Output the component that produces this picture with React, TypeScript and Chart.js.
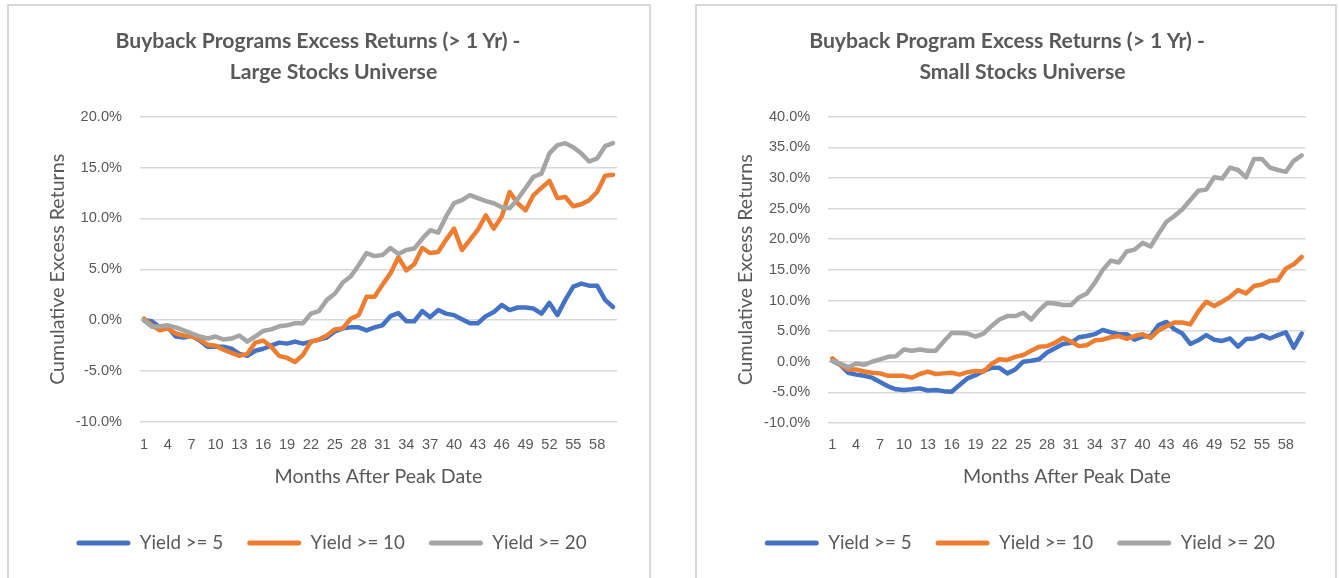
import React, { useEffect, useRef } from 'react';
import { Chart, registerables } from 'chart.js';

Chart.register(...registerables);

// ---------- data ----------
const months = [
  '1', '2', '3', '4', '5', '6', '7', '8', '9', '10',
  '11', '12', '13', '14', '15', '16', '17', '18', '19', '20',
  '21', '22', '23', '24', '25', '26', '27', '28', '29', '30',
  '31', '32', '33', '34', '35', '36', '37', '38', '39', '40',
  '41', '42', '43', '44', '45', '46', '47', '48', '49', '50',
  '51', '52', '53', '54', '55', '56', '57', '58', '59', '60',
];

const seriesNames = ['Yield >= 5', 'Yield >= 10', 'Yield >= 20'];

const largeYield5 = [
  0, -0.1, -0.7, -0.7, -1.6, -1.7, -1.5, -2.0, -2.6, -2.6,
  -2.6, -2.8, -3.3, -3.5, -3.0, -2.8, -2.5, -2.2, -2.3, -2.1,
  -2.3, -2.1, -1.9, -1.7, -1.1, -0.8, -0.7, -0.7, -1.0, -0.7,
  -0.5, 0.4, 0.7, -0.1, -0.1, 0.9, 0.3, 1.0, 0.65, 0.5,
  0.1, -0.3, -0.3, 0.4, 0.8, 1.5, 1.0, 1.25, 1.25, 1.15,
  0.65, 1.7, 0.5, 2.0, 3.3, 3.6, 3.4, 3.4, 2.0, 1.3,
];
const largeYield10 = [
  0.15, -0.5, -1.0, -0.8, -1.3, -1.5, -1.6, -1.9, -2.4, -2.5,
  -2.9, -3.2, -3.5, -3.3, -2.2, -2.0, -2.6, -3.5, -3.7, -4.1,
  -3.4, -2.1, -1.9, -1.5, -0.9, -0.8, 0.15, 0.5, 2.3, 2.3,
  3.5, 4.6, 6.2, 4.9, 5.5, 7.1, 6.6, 6.7, 7.9, 9.0,
  6.9, 7.9, 8.9, 10.3, 9.0, 10.2, 12.6, 11.5, 10.8, 12.3,
  13.0, 13.7, 12.0, 12.1, 11.2, 11.4, 11.8, 12.6, 14.2, 14.3,
];
const largeYield20 = [
  0, -0.65, -0.6, -0.5, -0.7, -1.0, -1.3, -1.6, -1.8, -1.6,
  -1.9, -1.8, -1.5, -2.1, -1.6, -1.05, -0.9, -0.6, -0.5, -0.3,
  -0.3, 0.65, 0.9, 2.0, 2.6, 3.7, 4.3, 5.4, 6.6, 6.3,
  6.4, 7.1, 6.5, 6.9, 7.05, 8.0, 8.85, 8.6, 10.2, 11.5,
  11.8, 12.3, 12.0, 11.7, 11.5, 11.1, 11.0, 11.9, 13.0, 14.1,
  14.4, 16.4, 17.2, 17.4, 17.0, 16.4, 15.6, 15.9, 17.1, 17.4,
];

const smallYield5 = [
  0.15, -0.5, -1.8, -2.1, -2.3, -2.6, -3.3, -4.0, -4.5, -4.6,
  -4.5, -4.35, -4.7, -4.6, -4.8, -4.9, -3.8, -2.7, -2.2, -1.5,
  -1.0, -1.0, -1.9, -1.25, 0, 0.15, 0.4, 1.5, 2.2, 2.9,
  3.1, 4.0, 4.2, 4.5, 5.2, 4.8, 4.5, 4.5, 3.6, 4.1,
  4.2, 6.0, 6.5, 5.3, 4.6, 2.9, 3.5, 4.35, 3.6, 3.4,
  3.8, 2.45, 3.7, 3.8, 4.35, 3.8, 4.35, 4.8, 2.3, 4.6,
];
const smallYield10 = [
  0.55, -0.5, -1.25, -1.25, -1.6, -1.8, -1.9, -2.3, -2.3, -2.3,
  -2.6, -2.0, -1.6, -2.0, -1.9, -1.8, -2.1, -1.7, -1.5, -1.6,
  -0.4, 0.4, 0.3, 0.8, 1.1, 1.8, 2.45, 2.55, 3.1, 3.9,
  3.3, 2.55, 2.7, 3.5, 3.6, 4.0, 4.2, 3.75, 4.2, 4.5,
  3.9, 5.1, 5.8, 6.4, 6.4, 6.1, 8.2, 9.8, 9.1, 9.8,
  10.6, 11.7, 11.15, 12.35, 12.6, 13.2, 13.3, 15.2, 15.9, 17.1,
];
const smallYield20 = [
  0.15, -0.3, -0.9, -0.3, -0.5, 0, 0.4, 0.8, 0.9, 2.0,
  1.8, 2.0, 1.8, 1.8, 3.3, 4.7, 4.7, 4.6, 4.1, 4.6,
  5.8, 6.9, 7.45, 7.45, 8.0, 6.9, 8.4, 9.6, 9.5, 9.25,
  9.25, 10.5, 11.15, 12.9, 15.0, 16.5, 16.2, 18.0, 18.3, 19.4,
  18.8, 20.9, 22.85, 23.8, 24.9, 26.4, 27.9, 28.1, 30.1, 29.9,
  31.7, 31.3, 30.1, 33.1, 33.1, 31.7, 31.3, 31.0, 32.8, 33.7,
];

const largeTitle = ['Buyback Programs Excess Returns (> 1 Yr) -', 'Large Stocks Universe'];
const smallTitle = ['Buyback Program Excess Returns (> 1 Yr) -', 'Small Stocks Universe'];
const largeYRange = [-10, 20];
const smallYRange = [-10, 40];
const yTickStep = 5;
const xTickEvery = 3;
const xAxisTitle = 'Months After Peak Date';
const yAxisTitle = 'Cumulative Excess Returns';

// ---------- style ----------
const seriesColors = ['#4472C4', '#ED7D31', '#A5A5A5'];
const TEXT = '#595959';
const GRID = '#d9d9d9';
const FONT_MAIN = 'Lato, "Open Sans", sans-serif';
const FONT_TICK = '"Liberation Sans", Arial, sans-serif';

function fitSize(text: string, weight: string, family: string, target: number, fallback: number): number {
  try {
    const c = document.createElement('canvas');
    const ctx = c.getContext('2d');
    if (!ctx) return fallback;
    ctx.font = `${weight} 100px ${family}`;
    const w = ctx.measureText(text).width;
    if (!w) return fallback;
    return Math.round((1000 * target) / w) / 10;
  } catch (e) {
    return fallback;
  }
}

type Fonts = { tick: number; axis: number; legend: number; title: number };

type PanelProps = {
  boxLeft: number;
  boxOuterWidth: number;
  series: number[][];
  yRange: number[];
  title: string[];
  titleCenters: number[];
  area: { left: number; right: number; top: number; bottom: number };
  padLeft: number;
  fonts: Fonts;
};

const BOX_TOP = 4;
const CANVAS_TOP = 6;
const CANVAS_H = 572;
const TITLE_Y = [41, 72.5];
const XTICK_MID_Y = 445;
const XTITLE_MID_Y = 477;
const LEGEND_MID_Y = 543;
const LEGEND_PAD = 24;

function Panel(props: PanelProps) {
  const ref = useRef<HTMLCanvasElement | null>(null);
  const { boxLeft, boxOuterWidth, series, yRange, title, titleCenters, area, padLeft, fonts } = props;
  const canvasLeft = boxLeft + 2;
  const canvasW = boxOuterWidth - 4;

  useEffect(() => {
    const canvas = ref.current;
    if (!canvas) return;
    const aL = area.left - canvasLeft;
    const aR = area.right - canvasLeft;
    const aT = area.top - CANVAS_TOP;
    const aB = area.bottom - CANVAS_TOP;
    const padRight = canvasW - aR;
    const yW = aL - padLeft;

    const legendTop = LEGEND_MID_Y - CANVAS_TOP - LEGEND_PAD - fonts.legend / 2;
    const legendH = fonts.legend + LEGEND_PAD + 10;
    const padBottom = Math.max(0, CANVAS_H - legendTop - legendH);
    const xH = legendTop - aB;
    const axisLH = fonts.axis * 1.2;
    const xTitlePadBottom = legendTop - axisLH / 2 - (XTITLE_MID_Y - CANVAS_TOP);
    const tickLH = fonts.tick * 1.2;
    const xTickPad = XTICK_MID_Y - CANVAS_TOP - aB - tickLH / 2;

    const datasets = series.map((data, i) => ({
      label: seriesNames[i],
      data,
      borderColor: seriesColors[i],
      backgroundColor: seriesColors[i],
      borderWidth: 4.5,
      pointRadius: 0,
      pointHoverRadius: 0,
      tension: 0,
      fill: false,
      borderJoinStyle: 'round',
      borderCapStyle: 'round',
      order: series.length - 1 - i,
    }));

    const chart = new Chart(canvas, {
      type: 'line',
      data: { labels: months, datasets: datasets as any },
      options: {
        responsive: false,
        maintainAspectRatio: false,
        animation: false,
        devicePixelRatio: 1,
        events: [],
        layout: { padding: { left: padLeft, right: padRight, top: aT, bottom: padBottom } },
        plugins: {
          title: { display: false },
          tooltip: { enabled: false },
          legend: {
            display: true,
            position: 'bottom',
            align: 'center',
            labels: {
              boxWidth: 54,
              boxHeight: 5,
              padding: LEGEND_PAD,
              color: TEXT,
              font: { family: FONT_MAIN, size: fonts.legend },
              generateLabels: (ch: any) =>
                (Chart.defaults.plugins.legend.labels.generateLabels as any)(ch).map((l: any) => ({
                  ...l,
                  lineWidth: 0,
                  borderRadius: 2.5,
                })),
              sort: (a: any, b: any) => a.datasetIndex - b.datasetIndex,
            },
          },
        },
        scales: {
          x: {
            type: 'category',
            offset: true,
            grid: { display: false, drawTicks: false },
            border: { display: false },
            ticks: {
              autoSkip: false,
              maxRotation: 0,
              minRotation: 0,
              padding: xTickPad,
              color: TEXT,
              font: { family: FONT_TICK, size: fonts.tick },
              callback: (_v: any, idx: number) => (idx % xTickEvery === 0 ? months[idx] : ''),
            },
            title: {
              display: true,
              text: xAxisTitle,
              color: TEXT,
              font: { family: FONT_MAIN, size: fonts.axis },
              padding: { top: 0, bottom: xTitlePadBottom },
            },
            afterFit: (s: any) => {
              s.height = xH;
            },
          },
          y: {
            min: yRange[0],
            max: yRange[1],
            grid: { color: GRID, lineWidth: 1.5, drawTicks: false },
            border: { display: false },
            ticks: {
              stepSize: yTickStep,
              padding: 18,
              color: TEXT,
              font: { family: FONT_TICK, size: fonts.tick },
              callback: (v: any) => Number(v).toFixed(1) + '%',
            },
            title: {
              display: true,
              text: yAxisTitle,
              color: TEXT,
              font: { family: FONT_MAIN, size: fonts.axis },
              padding: { top: 0, bottom: 0 },
            },
            afterFit: (s: any) => {
              s.width = yW;
            },
          },
        },
      } as any,
    });
    return () => chart.destroy();
  }, []);

  const titleLH = Math.round(fonts.title * 1.2);
  return (
    <>
      <div
        style={{
          position: 'absolute',
          left: boxLeft,
          top: BOX_TOP,
          width: boxOuterWidth - 4,
          height: 640,
          border: `2px solid ${GRID}`,
          background: '#fff',
        }}
      />
      <canvas
        ref={ref}
        width={canvasW}
        height={CANVAS_H}
        style={{ position: 'absolute', left: canvasLeft, top: CANVAS_TOP, width: canvasW, height: CANVAS_H }}
      />
      {title.map((t, i) => (
        <div
          key={i}
          style={{
            position: 'absolute',
            left: titleCenters[i] - 320,
            width: 640,
            top: TITLE_Y[i] - titleLH / 2 - 0.7,
            height: titleLH,
            lineHeight: `${titleLH}px`,
            textAlign: 'center',
            whiteSpace: 'nowrap',
            fontFamily: FONT_MAIN,
            fontWeight: 'bold',
            fontSize: fonts.title,
            color: TEXT,
          }}
        >
          {t}
        </div>
      ))}
    </>
  );
}

export default function App() {
  const fonts: Fonts = {
    tick: fitSize('20.0%', 'normal', FONT_TICK, 41.3, 15),
    axis: fitSize(xAxisTitle, 'normal', FONT_MAIN, 208, 19),
    legend: fitSize('Yield >= 10', 'normal', FONT_MAIN, 94.5, 19),
    title: fitSize('Large Stocks Universe', 'bold', FONT_MAIN, 208, 21),
  };
  return (
    <div
      style={{
        position: 'absolute',
        left: 0,
        top: 0,
        width: 1340,
        height: 578,
        overflow: 'hidden',
        background: '#fff',
      }}
    >
      <Panel
        boxLeft={7}
        boxOuterWidth={644}
        series={[largeYield5, largeYield10, largeYield20]}
        yRange={largeYRange}
        title={largeTitle}
        titleCenters={[318, 333.5]}
        area={{ left: 140, right: 617, top: 116.7, bottom: 422 }}
        padLeft={37}
        fonts={fonts}
      />
      <Panel
        boxLeft={695}
        boxOuterWidth={642}
        series={[smallYield5, smallYield10, smallYield20]}
        yRange={smallYRange}
        title={smallTitle}
        titleCenters={[1007, 1022.5]}
        area={{ left: 828.3, right: 1305.7, top: 116.7, bottom: 423 }}
        padLeft={37}
        fonts={fonts}
      />
    </div>
  );
}
